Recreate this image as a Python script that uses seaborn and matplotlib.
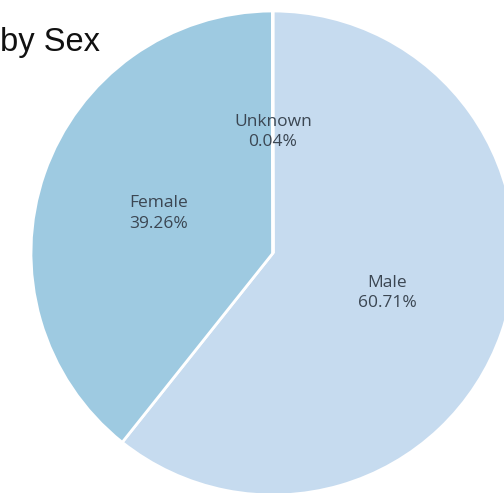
import numpy as np
import matplotlib
matplotlib.use("Agg")
import matplotlib.pyplot as plt
import seaborn as sns

# Share of records by sex (percent)
categories = ["Male", "Female", "Unknown"]
shares = [60.71, 39.26, 0.04]
share_labels = ["60.71%", "39.26%", "0.04%"]

sns.set_theme(style="white")
plt.rcParams["font.family"] = ["Open Sans", "DejaVu Sans"]

colors = ["#c6dbef", "#9ecae1", "#6baed6"]

W, H, DPI = 504, 493, 100
fig = plt.figure(figsize=(W / DPI, H / DPI), dpi=DPI)
ax = fig.add_axes([0, 0, 1, 1])

wedges, _ = ax.pie(
    shares,
    colors=colors,
    startangle=90,
    counterclock=False,
    radius=1.0,
    wedgeprops=dict(edgecolor="white", linewidth=2),
)

# Category name and share inside each slice, at half the radius
for w, name, lab in zip(wedges, categories, share_labels):
    mid = np.deg2rad((w.theta1 + w.theta2) / 2)
    r = 0.50
    ax.text(r * np.cos(mid), r * np.sin(mid), f"{name}\n{lab}",
            ha="center", va="center", fontsize=12.5, color="#3b4652",
            linespacing=1.4)

# Pixel frame: pie centre at (273, 253) px, radius 242 px
scale = 242.0
cx, cy = 273.0, 253.0
ax.set_aspect("auto")
ax.set_xlim(-cx / scale, (W - cx) / scale)
ax.set_ylim(-(H - cy) / scale, cy / scale)
ax.axis("off")

fig.text(0.5 / W, 1 - 43 / H, "by Sex", ha="left", va="center",
         fontsize=23.5, color="#111111", family=["Liberation Sans", "DejaVu Sans"])

fig.savefig("out.png", dpi=DPI, facecolor="white")
